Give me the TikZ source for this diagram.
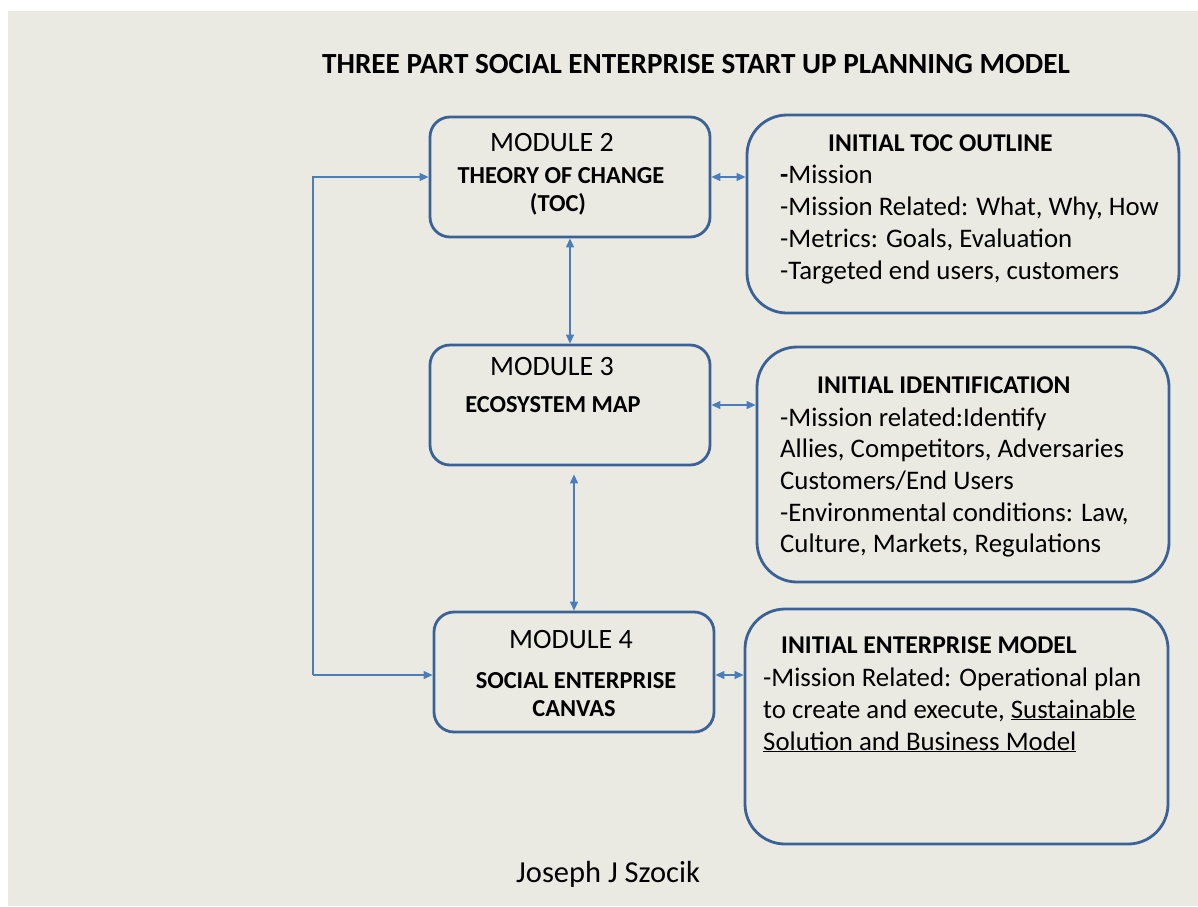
\documentclass[tikz,border=0pt]{standalone}
\usepackage{fontspec}
\setmainfont{Carlito}
\usetikzlibrary{arrows.meta}

\definecolor{slidegray}{HTML}{EBEAE2}
\definecolor{boxblue}{HTML}{3B6296}
\definecolor{linkblue}{HTML}{4A7EBB}

\tikzset{
  module/.style={draw=boxblue, line width=2.8pt, rounded corners=20pt,
    minimum width=280pt, minimum height=120pt},
  notebox/.style={draw=boxblue, line width=2.8pt, rounded corners=40pt},
  link/.style={draw=linkblue, line width=1.2pt},
  tip/.style={-{Triangle[length=9pt,width=8pt]}},
  bothtips/.style={{Triangle[length=9pt,width=8pt]}-{Triangle[length=9pt,width=8pt]}},
  maintitle/.style={anchor=base, inner sep=0pt, font=\fontsize{29.2}{35}\selectfont\bfseries},
  modhead/.style={anchor=base, inner sep=0pt, font=\fontsize{28}{34}\selectfont},
  modsub/.style={anchor=base, inner sep=0pt, font=\fontsize{24.4}{29}\selectfont\bfseries},
  boxhead/.style={anchor=base west, inner sep=0pt, font=\fontsize{25.6}{30}\selectfont\bfseries},
  bodytxt/.style={anchor=base west, inner sep=0pt, font=\fontsize{26.8}{32}\selectfont},
}

\begin{document}
\begin{tikzpicture}[x=1pt, y=-1pt]

    \useasboundingbox (0,0) rectangle (1198,906);
    \fill[white] (0,0) rectangle (1198,906);
    \fill[slidegray] (8,11) rectangle (1198,906);

    \node[maintitle] (title) at (696,73) {THREE PART SOCIAL ENTERPRISE START UP PLANNING MODEL};

    % modules
    \node[module] (m2) at (570,177) {};
    \node[module] (m3) at (570,405) {};
    \node[module] (m4) at (574,672) {};

    \node[modhead] (m2head) at (552,151) {MODULE 2};
    \node[modsub] (m2sub) at (561,183) {THEORY OF CHANGE};
    \node[modsub] (m2toc) at (558,211) {(TOC)};
    \node[modhead] (m3head) at (552,375) {MODULE 3};
    \node[modsub] (m3sub) at (553,412) {ECOSYSTEM MAP};
    \node[modhead] (m4head) at (571,648) {MODULE 4};
    \node[modsub] (m4sub) at (576,688) {SOCIAL ENTERPRISE};
    \node[modsub] (m4canvas) at (574,716) {CANVAS};

    % outline boxes
    \node[notebox, minimum width=432pt, minimum height=198pt] (tocbox) at (963,214) {};
    \node[notebox, minimum width=412pt, minimum height=235pt] (identbox) at (963,464.5) {};
    \node[notebox, minimum width=423pt, minimum height=235pt] (modelbox) at (956.5,726.5) {};

    \node[boxhead] (tochead) at (828,151) {INITIAL TOC OUTLINE};
    \node[bodytxt] (toc1) at (780,183) {\textbf{-}Mission};
    \node[bodytxt] (toc2) at (780,215) {-Mission Related: What, Why, How};
    \node[bodytxt] (toc3) at (780,247) {-Metrics: Goals, Evaluation};
    \node[bodytxt] (toc4) at (780,279) {-Targeted end users, customers};

    \node[boxhead] (identhead) at (817,393) {INITIAL IDENTIFICATION};
    \node[bodytxt] (ident1) at (780,426) {-Mission related:Identify};
    \node[bodytxt] (ident2) at (780,457) {Allies, Competitors, Adversaries};
    \node[bodytxt] (ident3) at (780,489) {Customers/End Users};
    \node[bodytxt] (ident4) at (780,521) {-Environmental conditions: Law,};
    \node[bodytxt] (ident5) at (780,552) {Culture, Markets, Regulations};

    \node[boxhead] (modelhead) at (781,653) {INITIAL ENTERPRISE MODEL};
    \node[bodytxt] (model1) at (763,686) {-Mission Related: Operational plan};
    \node[bodytxt] (model2) at (763,718) {to create and execute, \underline{Sustainable}};
    \node[bodytxt] (model3) at (763,750) {\underline{Solution and Business Model}};

    \node[bodytxt, font=\fontsize{30.5}{36}\selectfont] (author) at (516,882) {Joseph J Szocik};

    % connectors
    \draw[link, bothtips] (m2.south) -- (m3.north);
    \draw[link, bothtips] ([yshift=-8pt]m3.south -| m4.north) -- (m4.north);
    \draw[link, bothtips] (m2.east) -- (m2.east -| tocbox.west);
    \draw[link, bothtips] (m3.east) -- (m3.east -| identbox.west);
    \draw[link, bothtips] ([yshift=-3pt]m4.east) -- ([yshift=-3pt]m4.east -| modelbox.west);

    \coordinate (loop) at (313,675);
    \draw[link, tip] (loop) |- (m2.west);
    \draw[link, tip] (loop) -- (loop -| m4.west);

\end{tikzpicture}
\end{document}
